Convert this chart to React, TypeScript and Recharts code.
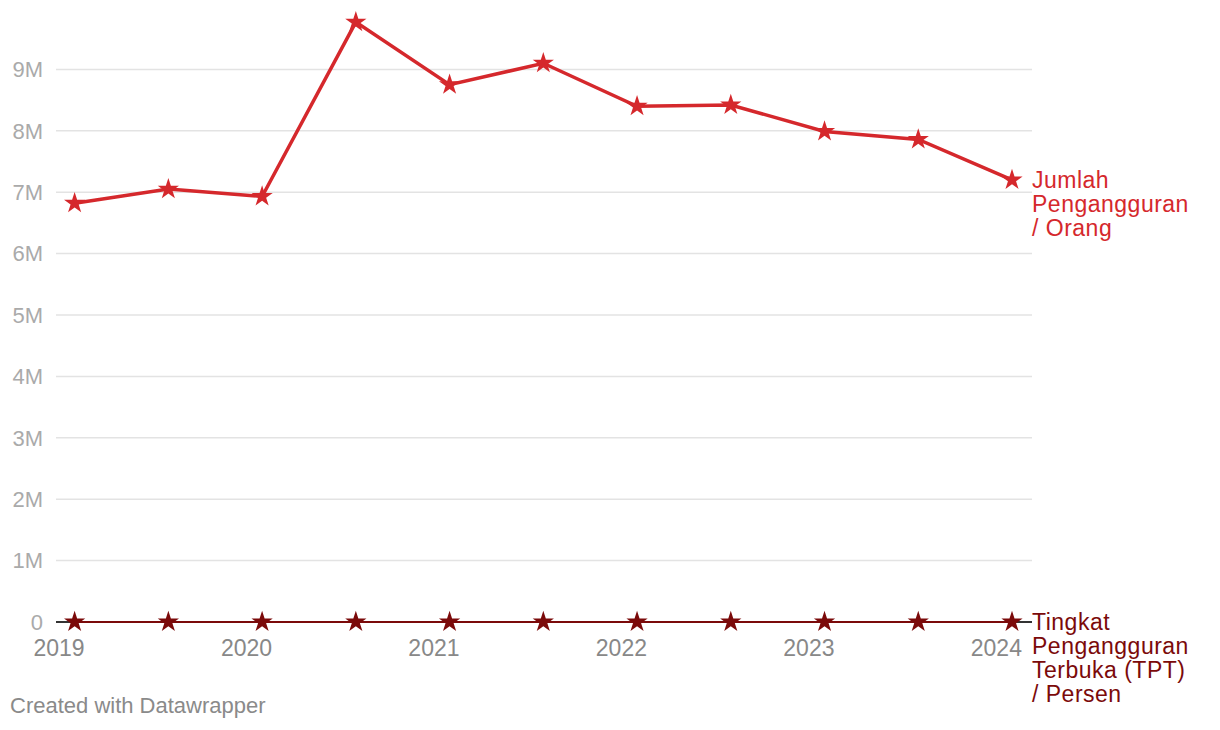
import React from "react";
import {
  LineChart,
  Line,
  XAxis,
  YAxis,
  CartesianGrid,
  ReferenceLine,
  LabelList,
  Symbols,
} from "recharts";

// survey periods (BPS Sakernas, Feb & Aug)
const periods = [
  "2019-02", "2019-08", "2020-02", "2020-08", "2021-02", "2021-08",
  "2022-02", "2022-08", "2023-02", "2023-08", "2024-02",
];

// Jumlah Pengangguran / Orang
const jumlah = [
  6820000, 7050000, 6930000, 9770000, 8750000, 9100000,
  8400000, 8420000, 7990000, 7860000, 7200000,
];

// Tingkat Pengangguran Terbuka (TPT) / Persen
const tpt = [5.01, 5.23, 4.94, 7.07, 6.26, 6.49, 5.83, 5.86, 5.45, 5.32, 4.82];

const yearTicks = [2019, 2020, 2021, 2022, 2023, 2024];
const yTicks = [0, 1e6, 2e6, 3e6, 4e6, 5e6, 6e6, 7e6, 8e6, 9e6];

const jumlahLabel = ["Jumlah", "Pengangguran", "/ Orang"];
const tptLabel = ["Tingkat", "Pengangguran", "Terbuka (TPT)", "/ Persen"];

const RED = "#d5282c";
const DARK = "#7b0a0a";
const FONT = "'Liberation Sans', Arial, Helvetica, sans-serif";

const toYear = (p: string) => {
  const [y, m] = p.split("-").map(Number);
  return y + (m - 1) / 12;
};

const data = periods.map((p, i) => ({
  t: toYear(p),
  jumlah: jumlah[i],
  tpt: tpt[i],
}));

const starDot = (color: string) => (props: any) => (
  <Symbols
    key={`s-${props.index}`}
    cx={props.cx}
    cy={props.cy}
    type="star"
    size={140}
    fill={color}
  />
);

const endLabel = (lines: string[], color: string) => (props: any) => {
  if (props.index !== data.length - 1) return null;
  const x = Number(props.x) + 20;
  const y = Number(props.y);
  return (
    <text
      x={x}
      y={y}
      fill={color}
      fontSize={23}
      letterSpacing={0.5}
      fontFamily={FONT}
    >
      {lines.map((l, i) => (
        <tspan key={i} x={x} dy={i === 0 ? 8 : 24}>
          {l}
        </tspan>
      ))}
    </text>
  );
};

const fmtY = (v: number) => (v === 0 ? "0" : `${v / 1e6}M`);

export default function App() {
  return (
    <div style={{ position: "relative", width: 1204, height: 714, fontFamily: FONT }}>
      <LineChart
        width={1204}
        height={714}
        data={data}
        margin={{ top: 0, right: 180, bottom: 0, left: 0 }}
        style={{ overflow: "visible" }}
      >
        <CartesianGrid
          vertical={false}
          stroke="#e3e3e3"
          strokeWidth={1.5}
          horizontalValues={yTicks}
        />
        <XAxis
          dataKey="t"
          type="number"
          domain={[2018.984, 2024.19]}
          ticks={yearTicks}
          tickFormatter={(v) => String(v)}
          axisLine={false}
          tickLine={false}
          tickSize={0}
          tickMargin={18}
          height={100}
          tick={{ fill: "#888888", fontSize: 23, fontFamily: FONT }}
          allowDataOverflow
        />
        <YAxis
          type="number"
          domain={[0, 10000000]}
          ticks={yTicks}
          tickFormatter={fmtY}
          axisLine={false}
          tickLine={false}
          tickSize={0}
          tickMargin={13}
          width={48}
          tick={{ fill: "#aaaaaa", fontSize: 22, fontFamily: FONT }}
        />
        <ReferenceLine y={0} stroke="#333333" strokeWidth={2} />
        <Line
          dataKey="tpt"
          stroke={DARK}
          strokeWidth={2}
          dot={starDot(DARK)}
          isAnimationActive={false}
        >
          <LabelList dataKey="tpt" content={endLabel(tptLabel, DARK)} />
        </Line>
        <Line
          dataKey="jumlah"
          stroke={RED}
          strokeWidth={3.5}
          dot={starDot(RED)}
          isAnimationActive={false}
        >
          <LabelList dataKey="jumlah" content={endLabel(jumlahLabel, RED)} />
        </Line>
      </LineChart>
      <div
        style={{
          position: "absolute",
          left: 2,
          top: 686,
          fontSize: 22,
          lineHeight: "24px",
          color: "#8a8a8a",
        }}
      >
        Created with Datawrapper
      </div>
    </div>
  );
}
